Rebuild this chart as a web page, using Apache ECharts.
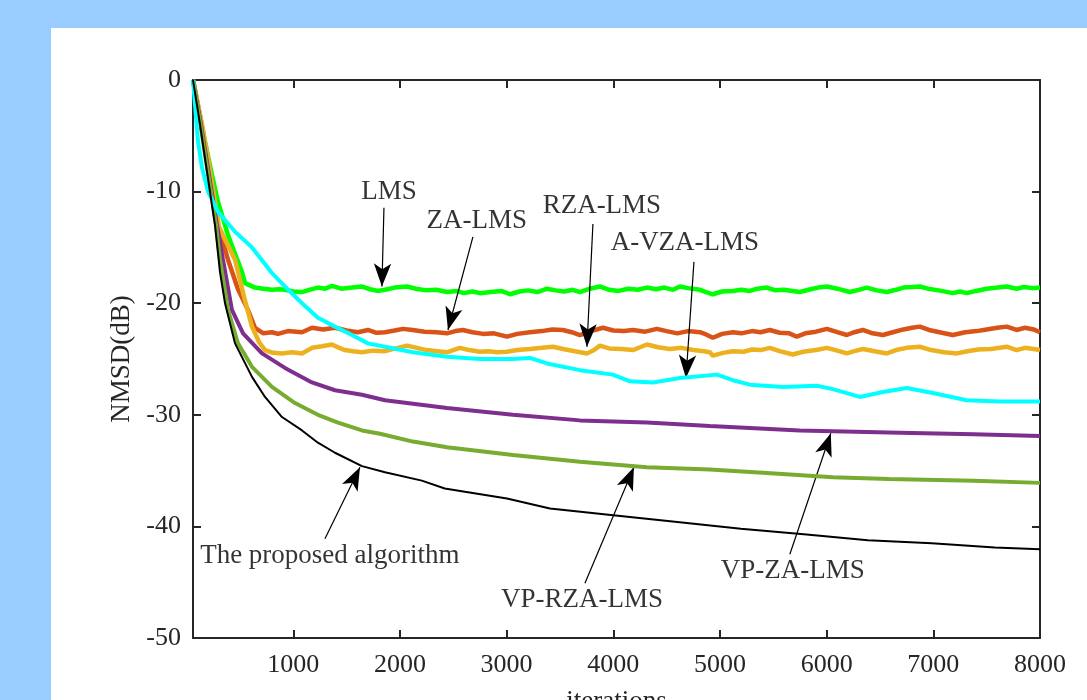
<!DOCTYPE html>
<html>
<head>
<meta charset="utf-8">
<script src="https://cdn.jsdelivr.net/npm/echarts@6.0.0/dist/echarts.min.js"></script>
<style>
  html, body { margin: 0; padding: 0; background: #99ccff; width: 1087px; height: 700px; overflow: hidden; }
  #chart { position: absolute; left: 51px; top: 28px; width: 1036px; height: 672px; background: #fff; }
</style>
</head>
<body>
<div id="chart"></div>
<script>
// x ticks / y ticks
var xTicks = [1000, 2000, 3000, 4000, 5000, 6000, 7000, 8000];
var yMin = -50, yMax = 0, yStep = 10;

// curves: [iteration, NMSD dB]
var lms = [[60,0],[172,-5.5],[238,-8.5],[294,-10.9],[388,-13.9],[475,-16.1],[519,-17.2],[547,-18.2],[641,-18.6],[720,-18.7],[800,-18.8],[870,-18.75],[922,-18.8],[1000,-18.95],[1082,-19.0],[1150,-18.8],[1231,-18.6],[1300,-18.7],[1363,-18.45],[1450,-18.7],[1550,-18.6],[1640,-18.5],[1720,-18.75],[1790,-18.9],[1860,-18.8],[1950,-18.6],[2066,-18.5],[2150,-18.7],[2250,-18.85],[2340,-18.8],[2441,-19.0],[2530,-18.9],[2600,-19.1],[2680,-18.95],[2750,-19.1],[2850,-19.0],[2950,-18.9],[3031,-19.2],[3120,-18.95],[3200,-18.85],[3290,-19.0],[3378,-18.7],[3460,-18.85],[3540,-18.95],[3620,-18.8],[3687,-19.0],[3780,-18.7],[3874,-18.5],[3960,-18.8],[4050,-18.9],[4140,-18.7],[4230,-18.8],[4315,-18.6],[4400,-18.75],[4480,-18.6],[4560,-18.8],[4624,-18.5],[4700,-18.65],[4812,-18.8],[4870,-19.0],[4933,-19.2],[5020,-18.95],[5121,-18.9],[5200,-18.8],[5280,-18.9],[5350,-18.7],[5439,-18.6],[5520,-18.85],[5600,-18.8],[5680,-18.9],[5748,-19.0],[5850,-18.75],[5920,-18.6],[6002,-18.5],[6100,-18.7],[6217,-19.0],[6300,-18.8],[6376,-18.6],[6470,-18.85],[6564,-19.0],[6650,-18.8],[6720,-18.6],[6800,-18.55],[6873,-18.5],[6950,-18.7],[7050,-18.85],[7182,-19.1],[7250,-18.95],[7313,-19.1],[7400,-18.9],[7500,-18.7],[7600,-18.6],[7688,-18.5],[7780,-18.7],[7850,-18.55],[7930,-18.65],[8000,-18.6]];

var zaLms = [[60,0],[140,-4],[195,-7],[245,-10],[300,-13.2],[388,-16.1],[480,-18.7],[575,-20.6],[641,-22.2],[720,-22.7],[800,-22.6],[857,-22.75],[950,-22.5],[1082,-22.6],[1175,-22.2],[1280,-22.35],[1391,-22.2],[1500,-22.45],[1606,-22.6],[1700,-22.4],[1780,-22.65],[1860,-22.6],[1950,-22.45],[2028,-22.3],[2120,-22.4],[2230,-22.55],[2340,-22.6],[2441,-22.7],[2520,-22.5],[2590,-22.4],[2680,-22.6],[2780,-22.75],[2880,-22.7],[3003,-23.0],[3100,-22.75],[3218,-22.6],[3330,-22.5],[3428,-22.35],[3528,-22.4],[3610,-22.6],[3687,-22.85],[3790,-22.5],[3903,-22.2],[4000,-22.45],[4100,-22.5],[4184,-22.4],[4300,-22.55],[4408,-22.3],[4500,-22.5],[4600,-22.7],[4700,-22.5],[4812,-22.6],[4870,-22.8],[4933,-23.1],[5020,-22.75],[5121,-22.6],[5200,-22.7],[5300,-22.5],[5380,-22.6],[5467,-22.4],[5560,-22.65],[5650,-22.7],[5720,-23.0],[5800,-22.7],[5900,-22.55],[6002,-22.3],[6100,-22.6],[6189,-22.85],[6260,-22.6],[6339,-22.4],[6430,-22.7],[6527,-22.85],[6620,-22.6],[6720,-22.35],[6800,-22.2],[6873,-22.1],[6960,-22.4],[7080,-22.65],[7182,-22.85],[7300,-22.6],[7407,-22.5],[7500,-22.35],[7600,-22.2],[7688,-22.1],[7780,-22.4],[7860,-22.2],[7940,-22.35],[8000,-22.6]];

var rzaLms = [[60,0],[145,-4],[200,-7],[250,-10],[305,-13.2],[454,-16.1],[540,-19.5],[613,-22.1],[680,-23.5],[735,-24.2],[810,-24.45],[894,-24.5],[990,-24.4],[1082,-24.5],[1175,-24.0],[1270,-23.85],[1363,-23.7],[1430,-24.0],[1485,-24.2],[1560,-24.3],[1644,-24.4],[1750,-24.25],[1860,-24.3],[1960,-24.05],[2066,-23.8],[2160,-24.0],[2250,-24.2],[2350,-24.3],[2441,-24.4],[2500,-24.2],[2562,-24.0],[2650,-24.2],[2750,-24.35],[2830,-24.3],[2909,-24.4],[3000,-24.35],[3100,-24.2],[3218,-24.1],[3330,-24.0],[3434,-23.9],[3530,-24.1],[3640,-24.3],[3753,-24.5],[3820,-24.2],[3874,-23.8],[3960,-24.05],[4080,-24.1],[4184,-24.2],[4250,-23.95],[4315,-23.7],[4420,-23.95],[4530,-24.1],[4640,-24.0],[4750,-24.2],[4850,-24.3],[4905,-24.4],[4933,-24.7],[5030,-24.45],[5121,-24.3],[5220,-24.35],[5300,-24.15],[5380,-24.2],[5467,-24.0],[5560,-24.3],[5683,-24.6],[5780,-24.35],[5900,-24.2],[6002,-24.0],[6100,-24.25],[6189,-24.5],[6260,-24.3],[6339,-24.1],[6450,-24.3],[6564,-24.5],[6650,-24.2],[6750,-24.0],[6873,-23.9],[6980,-24.2],[7100,-24.4],[7220,-24.5],[7320,-24.3],[7420,-24.15],[7540,-24.1],[7688,-23.9],[7780,-24.2],[7860,-24.0],[7940,-24.1],[8000,-24.2]];

var vpZaLms = [[60,0],[135,-4],[185,-7],[235,-10],[285,-13],[341,-16.1],[425,-20.6],[529,-22.7],[707,-24.5],[922,-25.8],[1175,-27.1],[1391,-27.8],[1644,-28.2],[1860,-28.7],[2441,-29.4],[3059,-30.0],[3687,-30.5],[4315,-30.7],[4905,-31.0],[5748,-31.4],[6686,-31.6],[7379,-31.75],[8000,-31.9]];

var vpRzaLms = [[60,0],[130,-4],[178,-7],[228,-10],[276,-13],[313,-16.1],[388,-20.6],[482,-23.6],[613,-25.7],[800,-27.5],[1016,-28.95],[1231,-30.0],[1419,-30.7],[1644,-31.4],[1813,-31.7],[2122,-32.4],[2441,-32.9],[3059,-33.6],[3687,-34.2],[4315,-34.7],[4905,-34.9],[5400,-35.2],[6058,-35.6],[6583,-35.75],[7379,-35.9],[8000,-36.1]];

var aVzaLms = [[60,0],[107,-5.5],[144,-7.85],[201,-10.0],[294,-11.8],[454,-13.6],[613,-15.0],[800,-17.3],[922,-18.5],[1082,-20.0],[1231,-21.3],[1391,-22.1],[1550,-22.85],[1700,-23.6],[1860,-23.9],[2122,-24.4],[2441,-24.8],[2750,-25.0],[3059,-25.0],[3218,-24.9],[3378,-25.4],[3687,-26.0],[3996,-26.4],[4156,-27.0],[4371,-27.1],[4624,-26.7],[4971,-26.4],[5121,-26.9],[5280,-27.3],[5589,-27.5],[5908,-27.4],[6058,-27.7],[6311,-28.4],[6527,-27.95],[6751,-27.6],[6995,-28.05],[7313,-28.7],[7623,-28.8],[8000,-28.8]];

var proposed = [[60,0],[126,-4.0],[172,-7.0],[219,-10.0],[266,-13.0],[313,-17.2],[360,-20.0],[454,-23.6],[613,-26.6],[735,-28.4],[894,-30.2],[1082,-31.4],[1231,-32.5],[1391,-33.4],[1644,-34.6],[1860,-35.15],[2205,-35.9],[2420,-36.6],[2609,-36.9],[3003,-37.5],[3406,-38.4],[4000,-39.0],[4600,-39.6],[5196,-40.2],[5786,-40.7],[6386,-41.25],[6985,-41.5],[7576,-41.9],[8000,-42.05]];

var names = ['LMS', 'ZA-LMS', 'RZA-LMS', 'VP-ZA-LMS', 'VP-RZA-LMS', 'A-VZA-LMS', 'The proposed algorithm'];
var colors = ['#00ff00', '#d95319', '#edb120', '#7e2f8e', '#77ac30', '#00ffff', '#000000'];
var widths = [4.5, 4.5, 4.5, 4, 4, 4, 2];
var curves = [lms, zaLms, rzaLms, vpZaLms, vpRzaLms, aVzaLms, proposed];

// annotation labels and arrows (data coords)
var noteText = [[1897,-10.0,'LMS'],[2721,-12.6,'ZA-LMS'],[3893,-11.3,'RZA-LMS'],[4671,-14.6,'A-VZA-LMS'],[1343,-42.6,'The proposed algorithm'],[3707,-46.6,'VP-RZA-LMS'],[5683,-44.0,'VP-ZA-LMS']];
var arrowFrom = [[1850,-11.45],[2684,-14.05],[3809,-12.9],[4756,-16.3],[1297,-41.1],[3734,-45.1],[5655,-42.5]];
var arrowTo = [[1831,-18.5],[2450,-22.4],[3753,-23.9],[4681,-26.7],[1625,-34.7],[4193,-34.7],[6039,-31.65]];

var font = 'Liberation Serif';
var axisColor = '#262626';

var chart = echarts.init(document.getElementById('chart'));

var series = curves.map(function (c, i) {
  return {
    name: names[i],
    type: 'line',
    data: c,
    showSymbol: false,
    symbol: 'none',
    smooth: false,
    lineStyle: { color: colors[i], width: widths[i] },
    z: 2 + i
  };
});

series.push({
  type: 'scatter',
  symbolSize: 0,
  data: noteText,
  z: 20,
  silent: true,
  label: {
    show: true,
    position: 'inside',
    formatter: function (p) { return p.data[2]; },
    fontFamily: font,
    fontSize: 27,
    color: '#000'
  },
  markLine: {
    silent: true,
    animation: false,
    symbol: ['none', 'arrow'],
    label: { show: false },
    lineStyle: { color: '#000', width: 1.2, type: 'solid' },
    data: arrowFrom.map(function (f, i) {
      return [
        { coord: f, symbol: 'none' },
        { coord: arrowTo[i], symbol: 'arrow', symbolSize: [13, 23], itemStyle: { color: '#000' } }
      ];
    })
  }
});

var plainNum = function (v) { return String(v); };

chart.setOption({
  animation: false,
  backgroundColor: '#fff',
  grid: { left: 142, top: 52, right: 47, bottom: 62, containLabel: false, outerBoundsMode: 'none' },
  xAxis: [{
    type: 'value',
    min: 60,
    max: 8000,
    name: 'iterations',
    nameLocation: 'middle',
    nameGap: 50,
    nameTextStyle: { fontFamily: font, fontSize: 27, color: axisColor },
    axisLine: { show: true, onZero: false, lineStyle: { color: axisColor, width: 2 } },
    axisTick: { show: true, inside: true, length: 8, customValues: xTicks, lineStyle: { color: axisColor, width: 2 } },
    axisLabel: { customValues: xTicks, formatter: plainNum, fontFamily: font, fontSize: 26, color: axisColor, margin: 14 },
    splitLine: { show: false }
  }, {
    type: 'value',
    position: 'top',
    min: 60,
    max: 8000,
    axisLine: { show: true, onZero: false, lineStyle: { color: axisColor, width: 2 } },
    axisTick: { show: true, inside: true, length: 8, customValues: xTicks, lineStyle: { color: axisColor, width: 2 } },
    axisLabel: { show: false },
    splitLine: { show: false }
  }],
  yAxis: [{
    type: 'value',
    min: yMin,
    max: yMax,
    interval: yStep,
    name: 'NMSD(dB)',
    nameLocation: 'middle',
    nameGap: 56,
    nameTextStyle: { fontFamily: font, fontSize: 27, color: axisColor },
    axisLine: { show: true, onZero: false, lineStyle: { color: axisColor, width: 2 } },
    axisTick: { show: true, inside: true, length: 8, lineStyle: { color: axisColor, width: 2 } },
    axisLabel: { formatter: plainNum, fontFamily: font, fontSize: 26, color: axisColor, margin: 12 },
    splitLine: { show: false }
  }, {
    type: 'value',
    position: 'right',
    min: yMin,
    max: yMax,
    interval: yStep,
    axisLine: { show: true, onZero: false, lineStyle: { color: axisColor, width: 2 } },
    axisTick: { show: true, inside: true, length: 8, lineStyle: { color: axisColor, width: 2 } },
    axisLabel: { show: false },
    splitLine: { show: false }
  }],
  series: series
});
</script>
</body>
</html>
